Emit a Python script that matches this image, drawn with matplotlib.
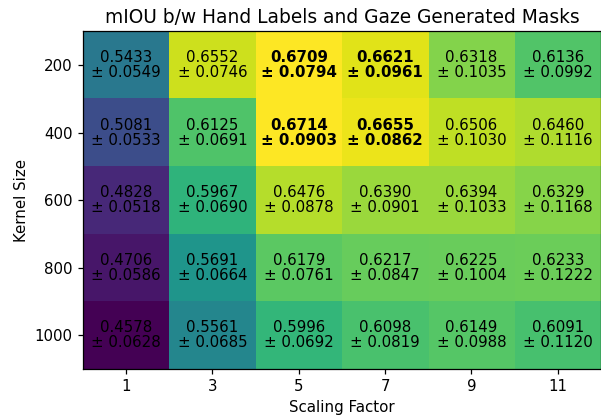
import numpy as np
import matplotlib
matplotlib.use("Agg")
import matplotlib.pyplot as plt

scaling_factors = [1, 3, 5, 7, 9, 11]
kernel_sizes = [200, 400, 600, 800, 1000]

miou_mean = [
    [0.5433, 0.6552, 0.6709, 0.6621, 0.6318, 0.6136],
    [0.5081, 0.6125, 0.6714, 0.6655, 0.6506, 0.6460],
    [0.4828, 0.5967, 0.6476, 0.6390, 0.6394, 0.6329],
    [0.4706, 0.5691, 0.6179, 0.6217, 0.6225, 0.6233],
    [0.4578, 0.5561, 0.5996, 0.6098, 0.6149, 0.6091],
]
miou_std = [
    [0.0549, 0.0746, 0.0794, 0.0961, 0.1035, 0.0992],
    [0.0533, 0.0691, 0.0903, 0.0862, 0.1030, 0.1116],
    [0.0518, 0.0690, 0.0878, 0.0901, 0.1033, 0.1168],
    [0.0586, 0.0664, 0.0761, 0.0847, 0.1004, 0.1222],
    [0.0628, 0.0685, 0.0692, 0.0819, 0.0988, 0.1120],
]
# cells shown in bold (top 4)
bold_cells = [(0, 2), (0, 3), (1, 2), (1, 3)]

mean = np.array(miou_mean)
std = np.array(miou_std)

fs = 10.8
fig = plt.figure(figsize=(6.01, 4.16), dpi=100)
ax = fig.add_axes([0.138, 0.113, 0.862, 0.812])
ax.imshow(mean, cmap="viridis", aspect="auto")

for i in range(len(kernel_sizes)):
    for j in range(len(scaling_factors)):
        weight = "bold" if (i, j) in bold_cells else "normal"
        ax.text(j, i, f"{mean[i, j]:.4f}\n± {std[i, j]:.4f}",
                ha="center", va="center", fontsize=fs, color="black",
                fontweight=weight, linespacing=1.0)

ax.set_xticks(range(len(scaling_factors)))
ax.set_xticklabels(scaling_factors)
ax.set_yticks(range(len(kernel_sizes)))
ax.set_yticklabels(kernel_sizes)
ax.tick_params(labelsize=fs, length=3.8, width=0.9)
for sp in ax.spines.values():
    sp.set_linewidth(0.9)
ax.set_xlabel("Scaling Factor", fontsize=fs, labelpad=4)
ax.set_ylabel("Kernel Size", fontsize=fs)
ax.set_title("mIOU b/w Hand Labels and Gaze Generated Masks", fontsize=13.4, pad=6)

fig.savefig("out.png", dpi=100)
